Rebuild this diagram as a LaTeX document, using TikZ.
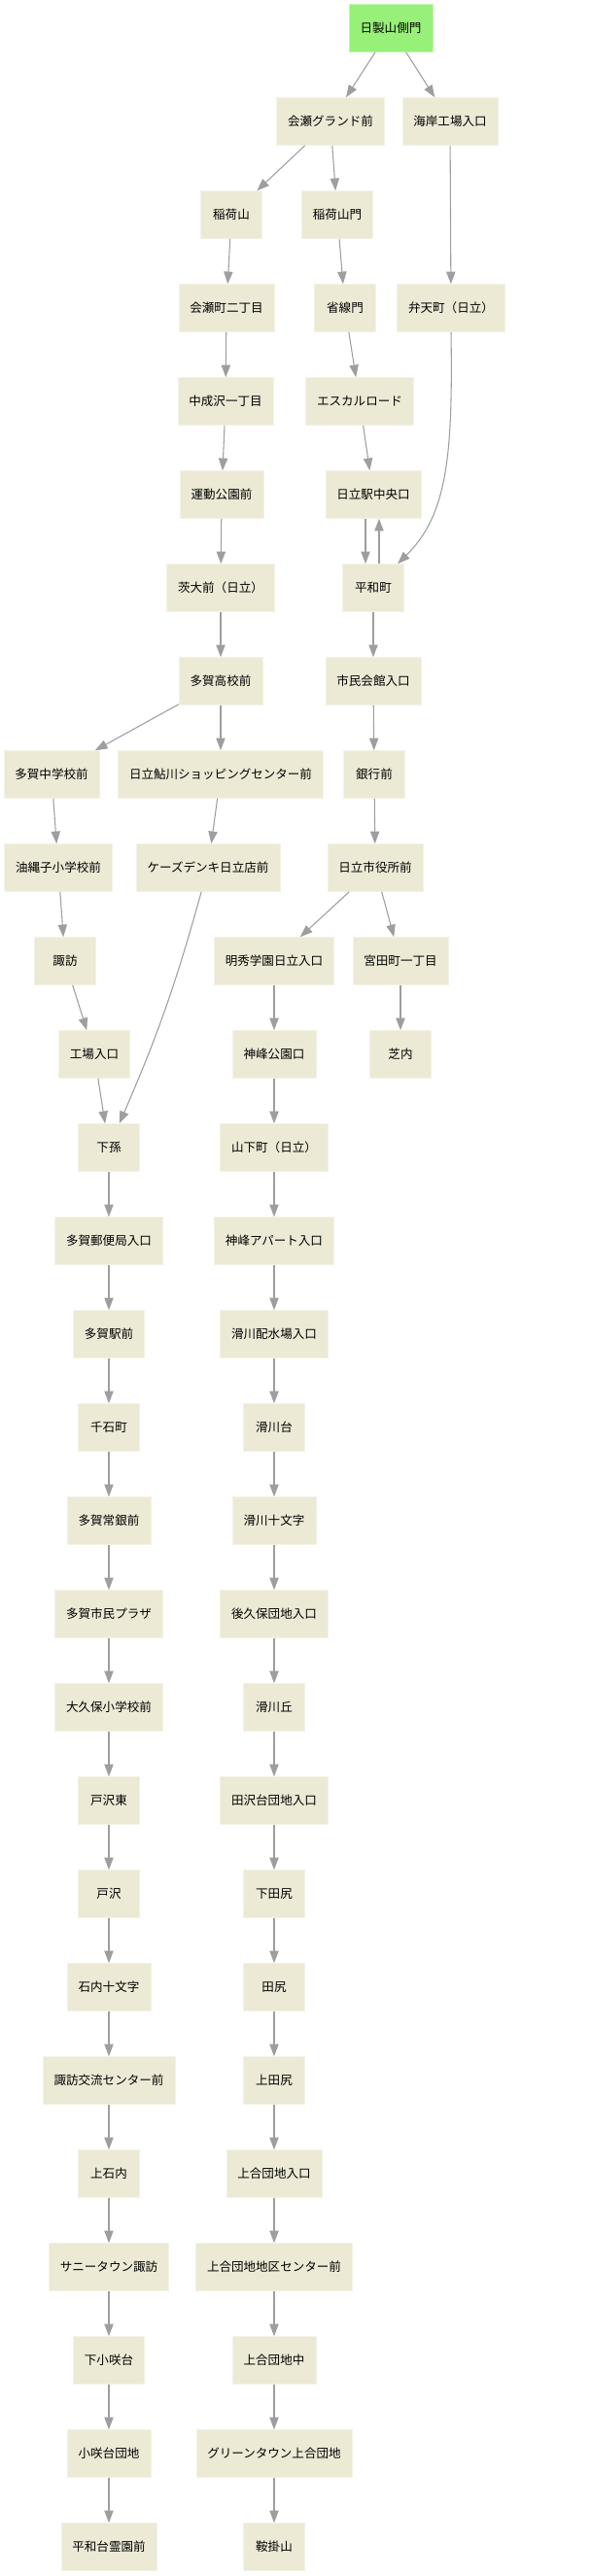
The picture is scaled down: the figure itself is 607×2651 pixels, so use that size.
\documentclass[tikz,border=0pt]{standalone}
\usepackage{fontspec}
\setmainfont{Noto Sans CJK JP}
\usetikzlibrary{arrows.meta}
\definecolor{stopfill}{HTML}{ECE9D5}
\definecolor{firstfill}{HTML}{97F077}
\definecolor{edgegray}{HTML}{9E9E9E}
\tikzset{
	busstop/.style={rectangle, fill=stopfill, draw=stopfill!60!white, line width=0.4pt, minimum height=36.75pt, minimum width=47.25pt, inner xsep=8.6pt, inner ysep=0pt, text height=0.86em, text depth=0.14em, font=\fontsize{9.4pt}{11pt}\selectfont},
	firststop/.style={busstop, fill=firstfill, draw=firstfill!60!white},
	edge/.style={draw=edgegray, line width=0.8pt, -{Triangle[length=9.5pt,width=7pt]}}
}

\begin{document}
\begin{tikzpicture}[x=0.75pt, y=-0.75pt]
			%%%%% START %%%%%
			\useasboundingbox (0,0) rectangle (607,2651);
			
			\node[firststop] (yamagawa) at (402, 29) {日製山側門};
			
			\node[busstop] (ousegrand) at (340, 125) {会瀬グランド前};
			\node[busstop] (kaiganjo) at (463, 125) {海岸工場入口};
			
			\node[busstop] (inariyama) at (238, 221) {稲荷山};
			\node[busstop] (inarimon) at (347, 221) {稲荷山門};
			
			\node[busstop] (ousecho) at (233, 317) {会瀬町二丁目};
			\node[busstop] (shosenmon) at (355, 317) {省線門};
			\node[busstop] (bentencho) at (464, 317) {弁天町（日立）};
			
			\node[busstop] (nakanarusawa) at (232, 413) {中成沢一丁目};
			\node[busstop] (escal) at (370, 413) {エスカルロード};
			
			\node[busstop] (undokoen) at (228, 509) {運動公園前};
			\node[busstop] (hitachieki) at (384, 509) {日立駅中央口};
			
			\node[busstop] (ibadai) at (227, 605) {茨大前（日立）};
			\node[busstop] (heiwacho) at (384, 605) {平和町};
			
			\node[busstop] (tagakoko) at (227, 701) {多賀高校前};
			\node[busstop] (shiminkaikan) at (384, 701) {市民会館入口};
			
			\node[busstop] (tagachu) at (53, 797) {多賀中学校前};
			\node[busstop] (ayukawa) at (227, 797) {日立鮎川ショッピングセンター前};
			\node[busstop] (ginko) at (385, 797) {銀行前};
			
			\node[busstop] (yunago) at (60, 893) {油縄子小学校前};
			\node[busstop] (ksdenki) at (214, 893) {ケーズデンキ日立店前};
			\node[busstop] (shiyakusho) at (386, 893) {日立市役所前};
			
			\node[busstop] (suwa) at (67, 989) {諏訪};
			\node[busstop] (meishu) at (282, 989) {明秀学園日立入口};
			\node[busstop] (miyata) at (412, 989) {宮田町一丁目};
			
			\node[busstop] (kojo) at (97, 1085) {工場入口};
			\node[busstop] (kaminekoen) at (282, 1085) {神峰公園口};
			\node[busstop] (shibauchi) at (412, 1085) {芝内};
			
			\node[busstop] (shimomago) at (112, 1181) {下孫};
			\node[busstop] (yamashita) at (282, 1181) {山下町（日立）};
			
			% left line
			\node[busstop] (tagayubin) at (112, 1277) {多賀郵便局入口};
			\node[busstop] (tagaeki) at (112, 1373) {多賀駅前};
			\node[busstop] (sengoku) at (112, 1469) {千石町};
			\node[busstop] (tagajogin) at (112, 1565) {多賀常銀前};
			\node[busstop] (tagaplaza) at (112, 1661) {多賀市民プラザ};
			\node[busstop] (okubosho) at (112, 1757) {大久保小学校前};
			\node[busstop] (tozawahigashi) at (112, 1853) {戸沢東};
			\node[busstop] (tozawa) at (112, 1949) {戸沢};
			\node[busstop] (ishinaijumonji) at (112, 2045) {石内十文字};
			\node[busstop] (suwakoryu) at (112, 2141) {諏訪交流センター前};
			\node[busstop] (kamiishinai) at (112, 2237) {上石内};
			\node[busstop] (sunnytown) at (112, 2333) {サニータウン諏訪};
			\node[busstop] (shimokosaku) at (112, 2429) {下小咲台};
			\node[busstop] (kosakudanchi) at (112, 2525) {小咲台団地};
			\node[busstop] (heiwadai) at (112, 2621) {平和台霊園前};
			
			% right line
			\node[busstop] (kaminepato) at (282, 1277) {神峰アパート入口};
			\node[busstop] (haisuijo) at (282, 1373) {滑川配水場入口};
			\node[busstop] (namekawadai) at (282, 1469) {滑川台};
			\node[busstop] (namekawajumonji) at (282, 1565) {滑川十文字};
			\node[busstop] (ushirokubo) at (282, 1661) {後久保団地入口};
			\node[busstop] (namekawaoka) at (282, 1757) {滑川丘};
			\node[busstop] (tazawadai) at (282, 1853) {田沢台団地入口};
			\node[busstop] (shimotajiri) at (282, 1949) {下田尻};
			\node[busstop] (tajiri) at (282, 2045) {田尻};
			\node[busstop] (kamitajiri) at (282, 2141) {上田尻};
			\node[busstop] (kamiaidanchi) at (282, 2237) {上合団地入口};
			\node[busstop] (kamiaicenter) at (282, 2333) {上合団地地区センター前};
			\node[busstop] (kamiainaka) at (282, 2429) {上合団地中};
			\node[busstop] (greentown) at (282, 2525) {グリーンタウン上合団地};
			\node[busstop] (kurakake) at (282, 2621) {鞍掛山};
			
			% connectors
			\draw[edge] (yamagawa) -- (ousegrand);
			\draw[edge] (yamagawa) -- (kaiganjo);
			\draw[edge] (ousegrand) -- (inariyama);
			\draw[edge] (ousegrand) -- (inarimon);
			\draw[edge] (kaiganjo) -- (bentencho);
			\draw[edge] (inariyama) -- (ousecho);
			\draw[edge] (inarimon) -- (shosenmon);
			\draw[edge] (ousecho) -- (nakanarusawa);
			\draw[edge] (shosenmon) -- (escal);
			\draw[edge] (nakanarusawa) -- (undokoen);
			\draw[edge] (escal) -- (hitachieki);
			\draw[edge] (bentencho.south) .. controls (466, 470) and (460, 530) .. ([xshift=-5pt]heiwacho.north east);
			\draw[edge] ([xshift=-6pt]hitachieki.south) -- ([xshift=-6pt]heiwacho.north);
			\draw[edge] ([xshift=4.5pt]heiwacho.north) -- ([xshift=4.5pt]hitachieki.south);
			\draw[edge] (undokoen) -- (ibadai);
			\draw[edge] (ibadai) -- (tagakoko);
			\draw[edge] (heiwacho) -- (shiminkaikan);
			\draw[edge] (tagakoko) -- (tagachu);
			\draw[edge] (tagakoko) -- (ayukawa);
			\draw[edge] (shiminkaikan) -- (ginko);
			\draw[edge] (tagachu) -- (yunago);
			\draw[edge] (ayukawa) -- (ksdenki);
			\draw[edge] (ginko) -- (shiyakusho);
			\draw[edge] (yunago) -- (suwa);
			\draw[edge] (ksdenki) to[bend left=4] (shimomago);
			\draw[edge] (shiyakusho) -- (meishu);
			\draw[edge] (shiyakusho) -- (miyata);
			\draw[edge] (suwa) -- (kojo);
			\draw[edge] (meishu) -- (kaminekoen);
			\draw[edge] (miyata) -- (shibauchi);
			\draw[edge] (kojo) -- (shimomago);
			\draw[edge] (kaminekoen) -- (yamashita);
			\draw[edge] (shimomago) -- (tagayubin);
			\draw[edge] (yamashita) -- (kaminepato);
			
			\draw[edge] (tagayubin) -- (tagaeki);
			\draw[edge] (tagaeki) -- (sengoku);
			\draw[edge] (sengoku) -- (tagajogin);
			\draw[edge] (tagajogin) -- (tagaplaza);
			\draw[edge] (tagaplaza) -- (okubosho);
			\draw[edge] (okubosho) -- (tozawahigashi);
			\draw[edge] (tozawahigashi) -- (tozawa);
			\draw[edge] (tozawa) -- (ishinaijumonji);
			\draw[edge] (ishinaijumonji) -- (suwakoryu);
			\draw[edge] (suwakoryu) -- (kamiishinai);
			\draw[edge] (kamiishinai) -- (sunnytown);
			\draw[edge] (sunnytown) -- (shimokosaku);
			\draw[edge] (shimokosaku) -- (kosakudanchi);
			\draw[edge] (kosakudanchi) -- (heiwadai);
			
			\draw[edge] (kaminepato) -- (haisuijo);
			\draw[edge] (haisuijo) -- (namekawadai);
			\draw[edge] (namekawadai) -- (namekawajumonji);
			\draw[edge] (namekawajumonji) -- (ushirokubo);
			\draw[edge] (ushirokubo) -- (namekawaoka);
			\draw[edge] (namekawaoka) -- (tazawadai);
			\draw[edge] (tazawadai) -- (shimotajiri);
			\draw[edge] (shimotajiri) -- (tajiri);
			\draw[edge] (tajiri) -- (kamitajiri);
			\draw[edge] (kamitajiri) -- (kamiaidanchi);
			\draw[edge] (kamiaidanchi) -- (kamiaicenter);
			\draw[edge] (kamiaicenter) -- (kamiainaka);
			\draw[edge] (kamiainaka) -- (greentown);
			\draw[edge] (greentown) -- (kurakake);
			
			%%%%% END %%%%%
		\end{tikzpicture}
\end{document}
